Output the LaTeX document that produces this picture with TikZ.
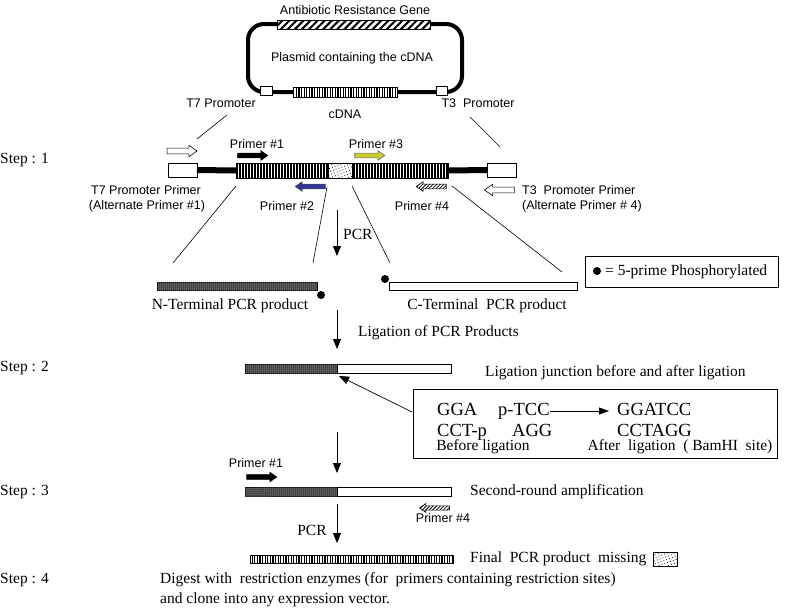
\documentclass[tikz,border=0pt]{standalone}
\usepackage{fontspec}
\setmainfont{Liberation Serif}
\newfontfamily\arialfont{Liberation Sans}
\usetikzlibrary{patterns.meta,shapes.arrows,arrows.meta}
\definecolor{primthree}{RGB}{204,204,51}
\definecolor{primtwo}{RGB}{51,51,153}
\tikzset{
  sans/.style={font=\arialfont\fontsize{12.5}{14}\selectfont, inner sep=0pt},
  serif/.style={font=\fontsize{15.5}{18}\selectfont, inner sep=0pt},
  seq/.style={font=\fontsize{18.5}{22}\selectfont, inner sep=0pt, anchor=base west},
  box/.style={draw, line width=0.7pt, inner sep=0pt, outer sep=0pt},
  cdna/.style={box, minimum height=15pt, fill=white, postaction={pattern={Lines[angle=90,distance=3pt,line width=1.5pt]}}},
  dotbox/.style={box, fill=white, postaction={pattern={Dots[distance=3pt,radius=0.55pt,angle=20]}}},
  darkbar/.style={box, minimum height=8.5pt, fill=black!80, postaction={pattern={Dots[distance=2pt,radius=0.5pt]}, pattern color=white}},
  whitebar/.style={box, minimum height=8.5pt, fill=white},
  primarrow/.style={single arrow, draw, line width=0.6pt, inner xsep=0pt, inner ysep=2.6pt, outer sep=0pt, minimum height=30pt, single arrow head extend=2.8pt, single arrow tip angle=70, single arrow head indent=0pt},
  smallarrow/.style={primarrow, inner ysep=2.1pt, single arrow head extend=2.4pt},
  leftward/.style={shape border rotate=180},
  hatcharrow/.style={fill=white, postaction={pattern={Lines[angle=45,distance=2.5pt,line width=0.8pt]}}},
  thin/.style={line width=0.6pt},
  flow/.style={line width=0.8pt, -{Triangle[width=8pt,length=10pt]}},
  dot/.style={circle, fill=black, inner sep=0pt, minimum size=8pt},
}
\begin{document}
\begin{tikzpicture}[x=1pt,y=-1pt]
\useasboundingbox (0,0) rectangle (800,614);

% ---------- plasmid ----------
\node[draw, line width=4pt, rounded corners=16pt, minimum width=214pt, minimum height=68pt, inner sep=0pt] (plasmid) at (355,58) {};
\node[sans] (plasmidlab) at (352,58) {Plasmid containing the cDNA};
\node[box, minimum width=153pt, minimum height=9pt, fill=white, postaction={pattern={Lines[angle=45,distance=5pt,line width=2pt]}}] (abr) at (353.5,25) {};
\node[sans] (abrlab) at (355,10) {Antibiotic Resistance Gene};
\node[box, fill=white, minimum width=12pt, minimum height=9pt] (t7p) at (266,91) {};
\node[box, fill=white, minimum width=11pt, minimum height=9pt] (t3p) at (442,91) {};
\node[box, minimum width=104pt, minimum height=10pt, fill=white, postaction={pattern={Lines[angle=90,distance=2.6pt,line width=1.3pt]}}] (pcdna) at (345,92) {};
\node[sans] (t7lab) at (221,103) {T7 Promoter};
\node[sans] (cdnalab) at (345,114) {cDNA};
\node[sans] (t3lab) at (478,103) {T3\ \ Promoter};

% ---------- step 1 linear map ----------
\node[serif, anchor=west] (step1) at (0,160) {Step : 1};
\node[box, fill=white, minimum width=29pt, minimum height=14pt] (t7box) at (182.5,170) {};
\node[cdna, minimum width=92pt] (cd1) at (282,170.5) {};
\node[dotbox, minimum width=24pt, minimum height=15pt] (del) at (340,170.5) {};
\node[cdna, minimum width=96pt] (cd2) at (400,170.5) {};
\node[box, fill=white, minimum width=29pt, minimum height=14pt] (t3box) at (501.5,170) {};
\draw[line width=6pt] (t7box.east) -- (cd1.west);
\draw[line width=6pt] (cd2.east) -- (t3box.west);

\coordinate (l1a) at (227,115); \coordinate (l1b) at (197,139);
\coordinate (l2a) at (470,117); \coordinate (l2b) at (500,147);
\draw[thin] (l1a) -- (l1b);
\draw[thin] (l2a) -- (l2b);

% primers
\node[primarrow, fill=white] (t7prim) at (180,151) {};
\node[sans] (p1lab) at (257,144) {Primer \#1};
\node[smallarrow, fill=black] (p1) at (251,155.5) {};
\node[sans] (p3lab) at (376,144) {Primer \#3};
\node[smallarrow, fill=primthree, draw=black!60] (p3) at (368,155.5) {};
\node[smallarrow, leftward, fill=primtwo, draw=black!70] (p2) at (312,186.5) {};
\node[sans] (p2lab) at (287,206) {Primer \#2};
\node[smallarrow, leftward, hatcharrow] (p4) at (433,186.5) {};
\node[sans] (p4lab) at (422,206) {Primer \#4};
\node[primarrow, leftward, fill=white] (t3prim) at (501.5,190) {};
\node[sans, anchor=west] (t3primlab) at (522,190) {T3\ \ Promoter Primer};
\node[sans, anchor=west] (t3altlab) at (522,206) {(Alternate Primer \# 4)};
\node[sans] (t7primlab) at (146,190) {T7 Promoter Primer};
\node[sans] (t7altlab) at (147,206) {(Alternate Primer \#1)};

% ---------- PCR products ----------
\coordinate (m1a) at (236,186); \coordinate (m1b) at (173,263);
\coordinate (m2a) at (327,187); \coordinate (m2b) at (313,263);
\coordinate (m3a) at (352,186); \coordinate (m3b) at (390,263);
\coordinate (m4a) at (452,186); \coordinate (m4b) at (562,272);
\draw[thin] (m1a) -- (m1b);
\draw[thin] (m2a) -- (m2b);
\draw[thin] (m3a) -- (m3b);
\draw[thin] (m4a) -- (m4b);

\coordinate (pcr1a) at (337,210); \coordinate (pcr1b) at (337,256);
\draw[flow] (pcr1a) -- (pcr1b);
\node[serif, anchor=west] (pcr1lab) at (343,234) {PCR};

\node[darkbar, minimum width=160pt] (nterm) at (237,286.5) {};
\node[dot] (ndot) at (321,295) {};
\node[serif] (ntermlab) at (230,306) {N-Terminal PCR product};
\node[whitebar, minimum width=188pt] (cterm) at (483,286.5) {};
\node[dot] (cdot) at (385,279) {};
\node[serif] (ctermlab) at (487,306) {C-Terminal\ \ PCR product};

\node[box, minimum width=193pt, minimum height=31pt] (legend) at (681.5,271.5) {};
\node[dot] (legdot) at (597,271) {};
\node[serif, anchor=west] (leglab) at (605,272) {= 5-prime Phosphorylated};

% ---------- step 2 ----------
\coordinate (lig1a) at (337,310); \coordinate (lig1b) at (337,349);
\draw[flow] (lig1a) -- (lig1b);
\node[serif, anchor=west] (liglab) at (358,333) {Ligation of PCR Products};

\node[serif, anchor=west] (step2) at (0,368) {Step : 2};
\node[darkbar, minimum width=92pt, anchor=east] (s2dark) at (337,369) {};
\node[whitebar, minimum width=114pt, anchor=west] (s2white) at (337,369) {};
\node[serif, anchor=west] (junclab) at (485,373) {Ligation junction before and after ligation};

\node[box, minimum width=364pt, minimum height=69pt] (junc) at (595,423.5) {};
\coordinate (jarr) at (412,412);
\coordinate (jtip) at (339,376);
\draw[line width=0.7pt, -{Triangle[width=8pt,length=10pt]}] (jarr) -- (jtip);
\node[seq] (gga) at (437,415) {GGA};
\node[seq] (ptcc) at (498,415) {p-TCC};
\node[seq] (ggatcc) at (617,415) {GGATCC};
\node[seq] (cctp) at (437,436) {CCT-p};
\node[seq] (agg) at (512,436) {AGG};
\node[seq] (cctagg) at (617,436) {CCTAGG};
\coordinate (sqa) at (550,411); \coordinate (sqb) at (609,411);
\draw[line width=0.8pt, -{Triangle[width=7pt,length=10pt]}] (sqa) -- (sqb);
\node[serif] (beflab) at (483,447) {Before ligation};
\node[serif] (aftlab) at (680,447) {After\ \ ligation\ \ ( BamHI\ \ site)};

% ---------- step 3 ----------
\coordinate (s3a) at (337,432); \coordinate (s3b) at (337,473);
\draw[flow] (s3a) -- (s3b);
\node[sans] (p1lab3) at (256,463) {Primer \#1};
\node[smallarrow, fill=black] (p1s3) at (260,477) {};
\node[serif, anchor=west] (step3) at (0,492) {Step : 3};
\node[darkbar, minimum width=92pt, anchor=east] (s3dark) at (337,492) {};
\node[whitebar, minimum width=114pt, anchor=west] (s3white) at (337,492) {};
\node[serif, anchor=west] (s3lab) at (470,492) {Second-round amplification};
\node[smallarrow, leftward, hatcharrow, inner ysep=1.8pt] (p4s3) at (436,508) {};
\node[sans] (p4lab3) at (443,518) {Primer \#4};

\coordinate (pcr2a) at (337,504); \coordinate (pcr2b) at (337,543);
\draw[flow] (pcr2a) -- (pcr2b);
\node[serif] (pcr2lab) at (312,530) {PCR};

\node[box, minimum width=203pt, minimum height=8pt, fill=white, postaction={pattern={Lines[angle=90,distance=2.6pt,line width=1.3pt]}}] (final) at (351.5,559) {};
\node[serif, anchor=west] (finallab) at (470,559) {Final\ \ PCR product\ \ missing};
\node[dotbox, minimum width=24pt, minimum height=14pt, anchor=west] (missbox) at ([xshift=7pt]finallab.east) {};

% ---------- step 4 ----------
\node[serif, anchor=west] (step4) at (0,580) {Step : 4};
\node[serif, anchor=west] (dig1) at (160,580) {Digest with\ \ restriction enzymes (for\ \ primers containing restriction sites)};
\node[serif, anchor=west] (dig2) at (160,600) {and clone into any expression vector.};
\end{tikzpicture}
\end{document}
